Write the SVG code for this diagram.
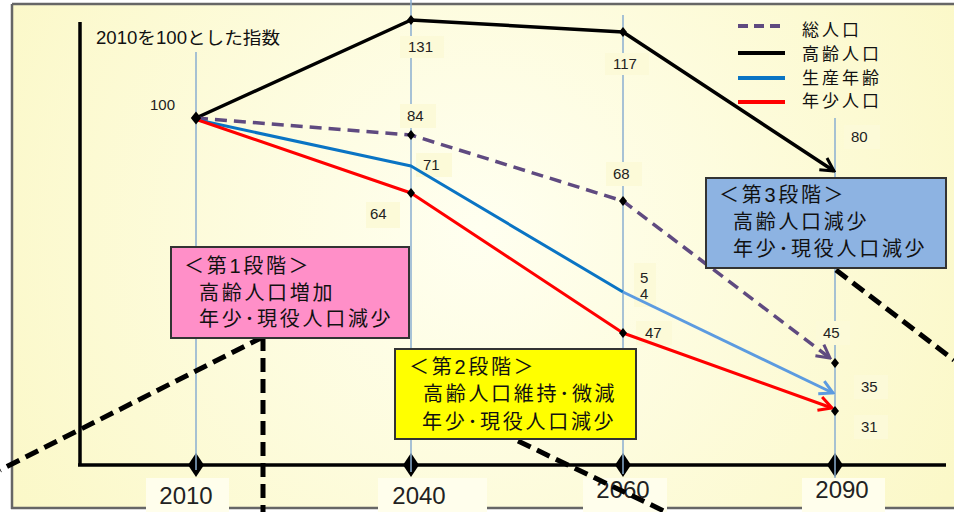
<svg xmlns="http://www.w3.org/2000/svg" width="954" height="512" viewBox="0 0 954 512">
<defs>
<radialGradient id="bg" cx="480" cy="230" r="540" gradientUnits="userSpaceOnUse">
<stop offset="0" stop-color="#fffff0"/>
<stop offset="1" stop-color="#fbf8c8"/>
</radialGradient>
<marker id="mK" viewBox="-16 -9 18 18" refX="0" refY="0" markerWidth="18" markerHeight="18" markerUnits="userSpaceOnUse" orient="auto"><path d="M-13,-7 L0,0 L-13,7" fill="none" stroke="#000" stroke-width="3"/></marker>
<marker id="mP" viewBox="-16 -9 18 18" refX="0" refY="0" markerWidth="18" markerHeight="18" markerUnits="userSpaceOnUse" orient="auto"><path d="M-13,-7 L0,0 L-13,7" fill="none" stroke="#5f4a80" stroke-width="3"/></marker>
<marker id="mB" viewBox="-16 -9 18 18" refX="0" refY="0" markerWidth="18" markerHeight="18" markerUnits="userSpaceOnUse" orient="auto"><path d="M-13,-7 L0,0 L-13,7" fill="none" stroke="#5c9be0" stroke-width="3"/></marker>
<marker id="mR" viewBox="-16 -9 18 18" refX="0" refY="0" markerWidth="18" markerHeight="18" markerUnits="userSpaceOnUse" orient="auto"><path d="M-13,-7 L0,0 L-13,7" fill="none" stroke="#ff0000" stroke-width="3"/></marker>
<path id="dS" d="M0,-5 L4,0 L0,5 L-4,0Z"/>
<path id="dL" d="M0,-12 L8,0 L0,12 L-8,0Z"/>
</defs>
<style>
.ser{fill:none;stroke-linejoin:round}
.k{stroke:#000;stroke-width:3.5}
.p{stroke:#5f4a80;stroke-width:3.5;stroke-dasharray:12 7}
.b{stroke:#0a74c4;stroke-width:3}
.b2{stroke:#5c9be0;stroke-width:3}
.r{stroke:#ff0000;stroke-width:3}
.vl{stroke:#8aaed0;stroke-width:1.5}
.ax{stroke:#000;stroke-width:3.5}
.bd{stroke:#666;stroke-width:2.5}
.num{font-family:"Liberation Sans",Arial,sans-serif;font-size:15px;fill:#222}
.yr{font-family:"Liberation Sans",Arial,sans-serif;font-size:24px;fill:#222;text-anchor:middle}
.jp{font-family:"Liberation Sans","Noto Sans CJK JP",sans-serif;font-size:20px;letter-spacing:2.7px;fill:#111}
.lg{font-size:17px;letter-spacing:3px}
.box{stroke:#333;stroke-width:2}
.cl{stroke:#000;stroke-width:5;stroke-dasharray:14 7;fill:none}
.lb{fill:#fcfad8}
.yb{fill:#fffeec}
</style>
<rect width="954" height="512" fill="#fff"/>
<rect x="12" y="4" width="942" height="504" fill="url(#bg)"/>
<g id="year-label-bg">
<rect class="yb" x="146" y="478" width="83" height="34"/>
<rect class="yb" x="378" y="478" width="109" height="34"/>
<rect class="yb" x="583" y="478" width="84" height="34"/>
<rect class="yb" x="802" y="478" width="83" height="34"/>
</g>
<g id="frame">
<line class="bd" x1="12" y1="4" x2="954" y2="4"/>
<line class="bd" x1="12" y1="4" x2="12" y2="509"/>
<line class="bd" x1="11" y1="508" x2="146" y2="508"/>
<line class="bd" x1="229" y1="508" x2="378" y2="508"/>
<line class="bd" x1="487" y1="508" x2="583" y2="508"/>
<line class="bd" x1="667" y1="508" x2="802" y2="508"/>
<line class="bd" x1="885" y1="508" x2="954" y2="508"/>
</g>
<g id="axes">
<line class="ax" x1="80" y1="22" x2="80" y2="466"/>
<line class="ax" x1="78" y1="465" x2="946" y2="465"/>
<use href="#dL" x="196" y="465"/>
<use href="#dL" x="411" y="465"/>
<use href="#dL" x="623" y="465"/>
<use href="#dL" x="835" y="465"/>
<line class="vl" x1="196" y1="52" x2="196" y2="470"/>
<line class="vl" x1="411" y1="0" x2="411" y2="472"/>
<line class="vl" x1="623" y1="15" x2="623" y2="474"/>
<line class="vl" x1="835" y1="118" x2="835" y2="478"/>
</g>
<g id="year-labels">
<text class="yr" x="186" y="504">2010</text>
<text class="yr" x="419" y="504">2040</text>
<text class="yr" x="623" y="498">2060</text>
<text class="yr" x="842" y="498">2090</text>
</g>
<g id="value-labels">
<rect class="lb" x="366" y="202" width="34" height="26"/>
<rect class="lb" x="400" y="36" width="44" height="22"/>
<rect class="lb" x="400" y="104" width="36" height="24"/>
<rect class="lb" x="416" y="153" width="36" height="24"/>
<rect class="lb" x="605" y="53" width="44" height="22"/>
<rect class="lb" x="606" y="162" width="36" height="24"/>
<rect class="lb" x="844" y="125" width="36" height="24"/>
<rect class="lb" x="634" y="263" width="22" height="44"/>
<rect class="lb" x="636" y="321" width="36" height="24"/>
<rect class="lb" x="816" y="321" width="34" height="24"/>
<rect class="lb" x="854" y="375" width="34" height="24"/>
<rect class="lb" x="854" y="415" width="34" height="24"/>
<text class="num" x="150" y="110">100</text>
<text class="num" x="408" y="52">131</text>
<text class="num" x="407" y="121">84</text>
<text class="num" x="423" y="170">71</text>
<text class="num" x="370" y="219">64</text>
<text class="num" x="613" y="69">117</text>
<text class="num" x="613" y="179">68</text>
<text class="num" x="851" y="142">80</text>
<text class="num" x="640" y="283">5</text>
<text class="num" x="640" y="299">4</text>
<text class="num" x="645" y="338">47</text>
<text class="num" x="823" y="338">45</text>
<text class="num" x="861" y="392">35</text>
<text class="num" x="861" y="432">31</text>
<text class="jp" x="96" y="44" style="font-size:17.5px;letter-spacing:0" textLength="184" lengthAdjust="spacingAndGlyphs">2010を100とした指数</text>
</g>
<g id="series">
<path class="ser k" d="M196,118 L411,20 L623,32 L834,171" marker-end="url(#mK)"/>
<path class="ser p" d="M196,118 L411,135 L623,201 L830,358" marker-end="url(#mP)"/>
<path class="ser b" d="M198,120 L411,166 L623,292"/>
<path class="ser b2" d="M623,292 L833,393" marker-end="url(#mB)"/>
<path class="ser r" d="M198,120 L411,193 L623,333 L832,408" marker-end="url(#mR)"/>
<use href="#dS" transform="translate(196,118) scale(1.3)"/>
<use href="#dS" x="411" y="20"/>
<use href="#dS" x="623" y="32"/>
<use href="#dS" x="411" y="135"/>
<use href="#dS" x="623" y="201"/>
<use href="#dS" x="835" y="363"/>
<use href="#dS" x="411" y="193"/>
<use href="#dS" x="623" y="333"/>
<use href="#dS" x="835" y="411"/>
</g>
<g id="legend">
<line x1="738" y1="26" x2="785" y2="26" stroke="#5f4a80" stroke-width="4" stroke-dasharray="10 6"/>
<line x1="738" y1="53" x2="785" y2="53" stroke="#000" stroke-width="4"/>
<line x1="738" y1="78" x2="785" y2="78" stroke="#0a74c4" stroke-width="4"/>
<line x1="738" y1="102" x2="785" y2="102" stroke="#ff0000" stroke-width="4"/>
<text class="jp lg" x="802" y="36">総人口</text>
<text class="jp lg" x="802" y="60">高齢人口</text>
<text class="jp lg" x="802" y="84">生産年齢</text>
<text class="jp lg" x="802" y="107">年少人口</text>
</g>
<g id="connectors">
<path class="cl" d="M263,337 L263,512 M263,337 L0,470"/>
<path class="cl" d="M518,441 L666,512"/>
<path class="cl" d="M836,270 L954,360"/>
</g>
<g id="stage1">
<rect class="box" x="171" y="247" width="238" height="91" fill="#ff8fc8"/>
<text class="jp" x="184" y="273">＜第1段階＞</text>
<text class="jp" x="199" y="300">高齢人口増加</text>
<text class="jp" x="199" y="326">年少･現役人口減少</text>
</g>
<g id="stage2">
<rect class="box" x="395" y="349" width="241" height="90" fill="#ffff00"/>
<text class="jp" x="409" y="374">＜第2段階＞</text>
<text class="jp" x="423" y="401">高齢人口維持･微減</text>
<text class="jp" x="422" y="429">年少･現役人口減少</text>
</g>
<g id="stage3">
<rect class="box" x="706" y="178" width="240" height="90" fill="#8db3e2"/>
<text class="jp" x="719" y="202">＜第3段階＞</text>
<text class="jp" x="733" y="229">高齢人口減少</text>
<text class="jp" x="733" y="256">年少･現役人口減少</text>
</g>
</svg>
